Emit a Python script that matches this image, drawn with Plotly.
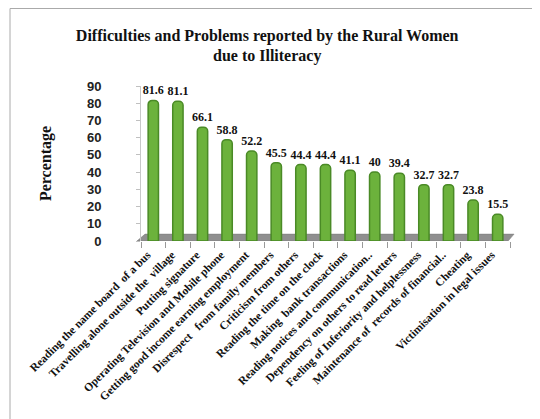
import plotly.graph_objects as go

categories = [
    "Reading the name board  of a bus",
    "Travelling alone outside the  village",
    "Putting signature",
    "Operating Television and Mobile phone",
    "Getting good income earning employment",
    "Disrespect   from family members",
    "Criticism from others",
    "Reading the time on the clock",
    "Making  bank transactions",
    "Reading notices and communication..",
    "Dependency on others to read letters",
    "Feeling of Inferiority and helplessness",
    "Maintenance of  records of financial..",
    "Cheating",
    "Victimisation in legal issues",
]
values = [81.6, 81.1, 66.1, 58.8, 52.2, 45.5, 44.4, 44.4, 41.1, 40, 39.4, 32.7, 32.7, 23.8, 15.5]
y_ticks = [0, 10, 20, 30, 40, 50, 60, 70, 80, 90]

serif = "Liberation Serif, Times New Roman, serif"
sans = "Liberation Sans, Arial, sans-serif"

fig = go.Figure()
fig.add_trace(go.Bar(
    x=categories, y=values,
    marker=dict(color="#6cb23c", line=dict(color="#4a8a26", width=1.5), cornerradius=4),
    text=[f"{v:g}" for v in values],
    textposition="outside",
    constraintext="none",
    textfont=dict(family=serif, size=12, color="#111", weight="bold"),
    cliponaxis=False,
    width=0.42,
))

# page has an 8px body margin, so layout is offset accordingly
L, R, T, B = 133, 38, 78, 186
W, H = 540, 419
pw, ph = W - L - R, H - T - B

fig.update_layout(
    width=W, height=H,
    margin=dict(l=L, r=R, t=T, b=B, autoexpand=False),
    paper_bgcolor="white", plot_bgcolor="white",
    showlegend=False,
    uniformtext=dict(mode=False),
    title=dict(
        text="Difficulties and Problems reported by the Rural Women<br>due to Illiteracy",
        x=0.48, xanchor="center", xref="container", y=0.922, yanchor="top",
        font=dict(family=serif, size=16, color="#111", weight="bold"),
    ),
    xaxis=dict(
        tickangle=-45, ticks="outside", tickson="boundaries", ticklen=6,
        tickcolor="#999", showline=False, showgrid=False, automargin=False,
        ticklabelshift=-6, ticklabelstandoff=4,
        tickfont=dict(family=serif, size=11.5, color="#111", weight="bold"),
    ),
    yaxis=dict(
        range=[0, 90], tickvals=y_ticks, showgrid=False,
        showline=True, linecolor="#c8c8c8", linewidth=1,
        zeroline=False, ticks="outside", ticklen=4, tickcolor="#c0c0c0",
        automargin=False, ticklabelstandoff=32,
        tickfont=dict(family=sans, size=13, color="#222", weight="bold"),
        title=dict(text="Percentage", font=dict(family=serif, size=16, color="#111", weight="bold"), standoff=31),
    ),
    shapes=[
        dict(type="path", xref="paper", yref="y", layer="below",
             path="M -0.011,0 L 0.995,0 L 1.011,4 L 0.011,4 Z",
             fillcolor="#8f8f8f", line=dict(color="#7a7a7a", width=0.5)),
        dict(type="rect", xref="paper", yref="paper",
             x0=(2 - L) / pw, x1=(W + 5 - L) / pw,
             y0=(T + ph - (H + 6)) / ph, y1=(T + ph - 0.5) / ph,
             line=dict(color="#aaaaaa", width=1)),
    ],
)

fig.write_html("out.html")
